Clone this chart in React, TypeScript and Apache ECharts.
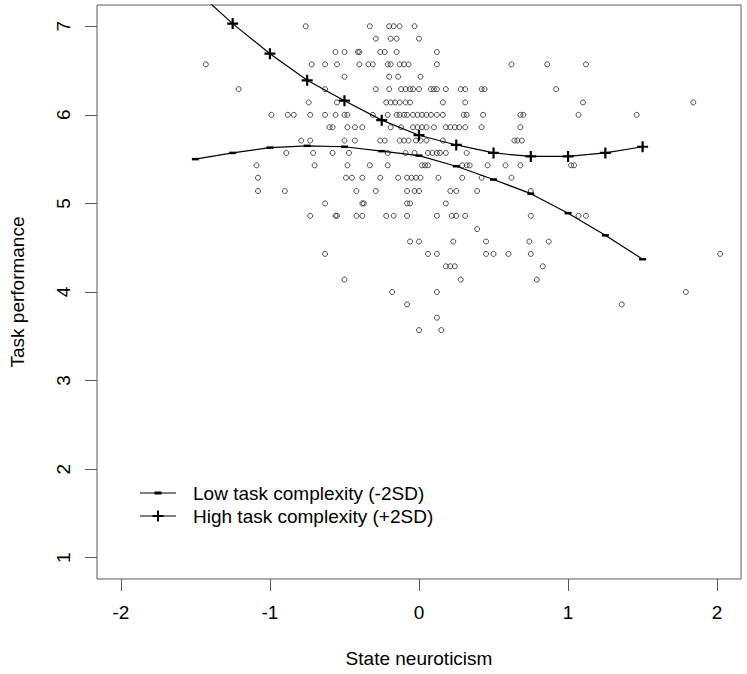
import React, { useEffect, useRef } from 'react';
import * as echarts from 'echarts';

const xTicks = [-2, -1, 0, 1, 2];
const yTicks = [1, 2, 3, 4, 5, 6, 7];

const xAxisTitle = 'State neuroticism';
const yAxisTitle = 'Task performance';
const lowName = 'Low task complexity (-2SD)';
const highName = 'High task complexity (+2SD)';

// Observed task performance levels (rows of the scatter)
const performanceLevels = [
  7, 6.86, 6.71, 6.57, 6.43, 6.29, 6.14, 6, 5.86, 5.71, 5.57, 5.43, 5.29,
  5.14, 5, 4.86, 4.71, 4.57, 4.43, 4.29, 4.14, 4, 3.86, 3.71, 3.57,
];

// State neuroticism values of the observations at each performance level
const neuroticismByLevel = [
  [-0.76, -0.33, -0.2, -0.17, -0.13, -0.03],
  [-0.29, -0.19, -0.15, 0.0],
  [-0.56, -0.5, -0.41, -0.4, -0.26, -0.23, -0.15, 0.12],
  [-1.43, -0.72, -0.63, -0.55, -0.4, -0.34, -0.31, -0.21, -0.19, -0.13, -0.1, -0.07, 0.12, 0.62, 0.86, 1.12],
  [-0.5, -0.2, -0.14, 0.01],
  [-1.21, -0.63, -0.29, -0.2, -0.12, -0.09, -0.06, -0.04, 0.0, 0.08, 0.1, 0.12, 0.18, 0.28, 0.31, 0.42, 0.44, 0.92],
  [-0.74, -0.55, -0.22, -0.19, -0.16, -0.13, -0.09, -0.06, 0.16, 0.31, 1.1, 1.84],
  [-0.99, -0.88, -0.84, -0.73, -0.63, -0.56, -0.5, -0.48, -0.31, -0.21, -0.15, -0.13, -0.1, -0.08, -0.04, -0.01, 0.02, 0.05, 0.08, 0.12, 0.16, 0.3, 0.32, 0.43, 0.68, 0.7, 1.07, 1.46],
  [-0.6, -0.58, -0.48, -0.43, -0.38, -0.19, -0.12, -0.04, -0.01, 0.02, 0.05, 0.1, 0.18, 0.21, 0.24, 0.27, 0.31, 0.42, 0.68],
  [-0.79, -0.73, -0.5, -0.43, -0.26, -0.23, -0.13, -0.1, -0.07, -0.02, 0.01, 0.05, 0.16, 0.64, 0.66, 0.69],
  [-0.89, -0.71, -0.58, -0.47, -0.21, -0.09, -0.03, 0.06, 0.09, 0.12, 0.14, 0.18, 0.32],
  [-1.09, -0.7, -0.48, -0.33, -0.21, 0.02, 0.04, 0.06, 0.29, 0.32, 0.34, 0.46, 0.58, 0.68, 1.02, 1.04],
  [-1.08, -0.49, -0.45, -0.38, -0.26, -0.14, -0.08, -0.05, -0.02, 0.01, 0.13, 0.29, 0.42, 0.62],
  [-1.08, -0.9, -0.42, -0.29, -0.08, -0.03, 0.0, 0.21, 0.25, 0.39, 0.75],
  [-0.63, -0.38, -0.37, -0.08, -0.06, 0.18],
  [-0.73, -0.56, -0.55, -0.42, -0.38, -0.22, -0.17, -0.08, 0.12, 0.22, 0.25, 0.31, 0.75, 1.07, 1.12],
  [0.39],
  [-0.06, 0.0, 0.23, 0.45, 0.74, 0.87],
  [-0.63, 0.06, 0.12, 0.45, 0.5, 0.6, 0.75, 2.02],
  [0.18, 0.21, 0.24, 0.83],
  [-0.5, 0.28, 0.79],
  [-0.18, 0.12, 1.79],
  [-0.08, 1.36],
  [0.12],
  [0.0, 0.15],
];

// Fitted curves
const curveX = [-1.5, -1.25, -1, -0.75, -0.5, -0.25, 0, 0.25, 0.5, 0.75, 1, 1.25, 1.5];
const lowComplexityY = [5.5, 5.57, 5.63, 5.65, 5.64, 5.59, 5.54, 5.42, 5.27, 5.11, 4.89, 4.64, 4.37];
const highComplexityY = [7.41, 7.03, 6.69, 6.39, 6.16, 5.94, 5.77, 5.66, 5.57, 5.53, 5.53, 5.57, 5.64];

const FONT = "'Liberation Sans', Arial, Helvetica, sans-serif";
const AXIS_COLOR = '#585858';
const DASH_SYMBOL = 'path://M0,0H10V3H0Z';
const PLUS_SYMBOL = 'path://M4,0H6V4H10V6H6V10H4V6H0V4H4Z';
const LEGEND_DASH_ICON = 'path://M0,5.4H36V6.6H0Z M14.5,4.6H21.5V7.4H14.5Z';
const LEGEND_PLUS_ICON = 'path://M0,5.4H36V6.6H0Z M17,0.5H19V11.5H17Z M12.5,5H23.5V7H12.5Z';

export default function App() {
  const ref = useRef<HTMLDivElement>(null);

  useEffect(() => {
    if (!ref.current) return;
    const chart = echarts.init(ref.current, null, { renderer: 'svg' });

    const scatterData: number[][] = [];
    performanceLevels.forEach((y, i) => {
      neuroticismByLevel[i].forEach((x) => scatterData.push([x, y]));
    });

    chart.setOption({
      animation: false,
      backgroundColor: '#ffffff',
      textStyle: { fontFamily: FONT },
      grid: {
        left: 96,
        right: 6,
        top: 5,
        bottom: 95,
        show: true,
        borderColor: AXIS_COLOR,
        borderWidth: 1,
        backgroundColor: 'transparent',
      },
      xAxis: {
        type: 'value',
        min: -2.16,
        max: 2.16,
        position: 'bottom',
        name: xAxisTitle,
        nameLocation: 'middle',
        nameGap: 70,
        nameTextStyle: { fontSize: 19, color: '#000', fontFamily: FONT },
        axisLine: { show: false, onZero: false },
        axisTick: { show: true, customValues: xTicks, length: 12, lineStyle: { color: AXIS_COLOR, width: 1 } },
        axisLabel: { customValues: xTicks, fontSize: 19, color: '#000', margin: 24, fontFamily: FONT },
        splitLine: { show: false },
      },
      yAxis: {
        type: 'value',
        min: 0.76,
        max: 7.24,
        position: 'left',
        name: yAxisTitle,
        nameLocation: 'middle',
        nameGap: 70,
        nameRotate: 90,
        nameTextStyle: { fontSize: 19, color: '#000', fontFamily: FONT },
        axisLine: { show: false, onZero: false },
        axisTick: { show: true, customValues: yTicks, length: 12, lineStyle: { color: AXIS_COLOR, width: 1 } },
        axisLabel: { customValues: yTicks, fontSize: 19, color: '#000', margin: 24, rotate: 90, fontFamily: FONT },
        splitLine: { show: false },
      },
      legend: {
        data: [
          { name: lowName, icon: LEGEND_DASH_ICON },
          { name: highName, icon: LEGEND_PLUS_ICON },
        ],
        orient: 'vertical',
        left: 140,
        top: 482,
        padding: 0,
        itemWidth: 36,
        itemHeight: 12,
        itemGap: 1,
        selectedMode: false,
        textStyle: { fontSize: 19, color: '#000', lineHeight: 22, padding: [0, 0, 0, 12], fontFamily: FONT },
      },
      series: [
        {
          type: 'scatter',
          name: 'Observations',
          data: scatterData,
          symbol: 'circle',
          symbolSize: 5,
          itemStyle: { color: 'rgba(0,0,0,0)', borderColor: '#222', borderWidth: 1 },
          z: 2,
        },
        {
          type: 'line',
          name: lowName,
          data: curveX.map((x, i) => [x, lowComplexityY[i]]),
          symbol: DASH_SYMBOL,
          symbolSize: [7, 2.5],
          symbolKeepAspect: false,
          lineStyle: { color: '#000', width: 1.2 },
          itemStyle: { color: '#000' },
          clip: true,
          z: 3,
        },
        {
          type: 'line',
          name: highName,
          data: curveX.map((x, i) => [x, highComplexityY[i]]),
          symbol: PLUS_SYMBOL,
          symbolSize: 11,
          lineStyle: { color: '#000', width: 1.2 },
          itemStyle: { color: '#000' },
          clip: true,
          z: 3,
        },
      ],
    });

    return () => chart.dispose();
  }, []);

  return (
    <div
      ref={ref}
      style={{ position: 'fixed', left: 0, top: 0, width: 747, height: 674, background: '#fff' }}
    />
  );
}
